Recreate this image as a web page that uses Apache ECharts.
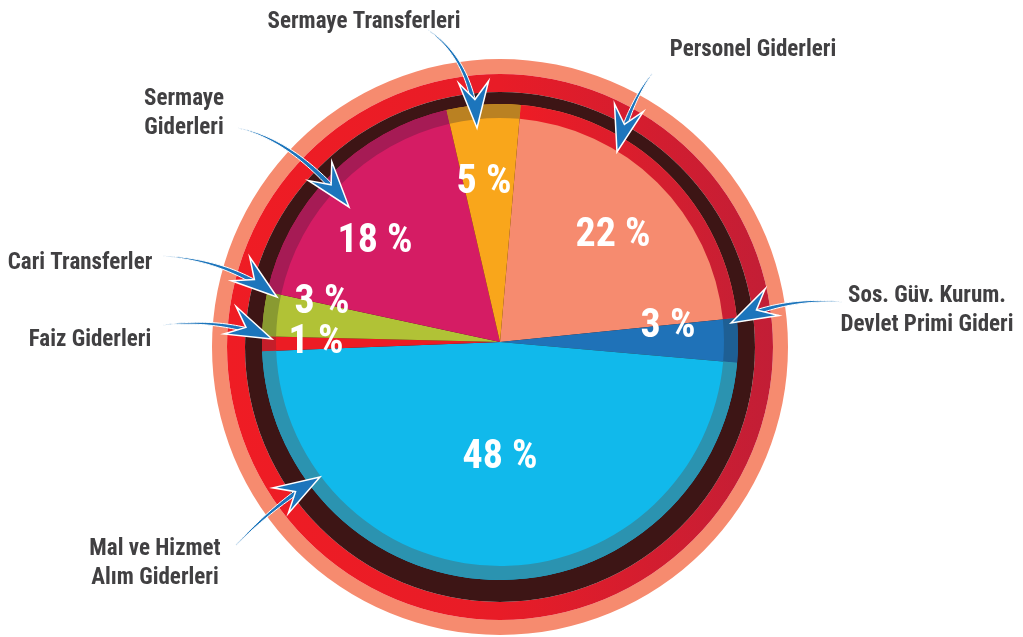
<!DOCTYPE html>
<html>
<head>
<meta charset="utf-8">
<title>Gider Dağılımı</title>
<script src="https://cdn.jsdelivr.net/npm/echarts@6.0.0/dist/echarts.min.js"></script>
<style>
  html, body { margin: 0; padding: 0; background: #fff; }
  #chart { width: 1023px; height: 637px; }
</style>
</head>
<body>
<div id="chart"></div>
<script>
// slices, clockwise from the top
const categories = [
  'Personel Giderleri',
  'Sos. Güv. Kurum.\nDevlet Primi Gideri',
  'Mal ve Hizmet\nAlım Giderleri',
  'Faiz Giderleri',
  'Cari Transferler',
  'Sermaye\nGiderleri',
  'Sermaye Transferleri'
]
const shares = [22, 3, 48, 1, 3, 18, 5]

const sliceColors = ['#F68B6F', '#1F72B8', '#11B9EB', '#EC1C24', '#B1C236', '#D51C64', '#F9A61B']
const bandColors = ['#E61D2A', '#1E5F94', '#2B93B0', '#C41E2A', '#899A31', '#A61B55', '#BA8122']

// where the texts sit
const pctPos = [[613, 236], [668, 327], [500, 458], [316, 343], [322, 303], [375, 242], [484, 183]]
const namePos = [[753, 50], [927, 311], [155, 564], [90, 340], [80, 263], [184, 114], [364, 22]]

// callout arrows: tail, control, tip
const arrows = [
  { tail: [652, 74], ctrl: [631, 100], tip: [617, 152] },
  { tail: [842, 302], ctrl: [782, 297], tip: [731, 323] },
  { tail: [236, 545], ctrl: [275, 504], tip: [320, 477] },
  { tail: [163, 325], ctrl: [225, 318], tip: [272, 339] },
  { tail: [163, 256], ctrl: [229, 260], tip: [277, 297] },
  { tail: [238, 128], ctrl: [295, 140], tip: [349, 207] },
  { tail: [428, 30], ctrl: [472, 60], tip: [477, 128] }
]

const FONT = '"Liberation Sans Narrow", "Roboto Condensed", "DejaVu Sans Condensed", "Arial Narrow", sans-serif'
const ringCenter = [500, 347]
const pieCenter = [500, 342]

const data = categories.map((name, i) => ({
  name,
  value: shares[i],
  itemStyle: { color: sliceColors[i] }
}))

const bandData = categories.map((name, i) => ({
  name,
  value: shares[i],
  itemStyle: {
    color: i === 0
      ? new echarts.graphic.LinearGradient(0, 0, 1, 0, [
        { offset: 0, color: '#EE1C25' },
        { offset: 1, color: '#C71F34' }
      ])
      : bandColors[i]
  }
}))

const ring = (radius, color) => ({
  type: 'pie',
  silent: true,
  center: ringCenter,
  radius,
  label: { show: false },
  labelLine: { show: false },
  emphasis: { disabled: true },
  data: [{ value: 1, itemStyle: { color } }]
})

const buildArrow = (a) => {
  const [p0, p1, p2] = [a.tail, a.ctrl, a.tip]
  const pt = t => [
    (1 - t) * (1 - t) * p0[0] + 2 * (1 - t) * t * p1[0] + t * t * p2[0],
    (1 - t) * (1 - t) * p0[1] + 2 * (1 - t) * t * p1[1] + t * t * p2[1]
  ]
  const tan = t => {
    const dx = 2 * (1 - t) * (p1[0] - p0[0]) + 2 * t * (p2[0] - p1[0])
    const dy = 2 * (1 - t) * (p1[1] - p0[1]) + 2 * t * (p2[1] - p1[1])
    const l = Math.hypot(dx, dy) || 1
    return [dx / l, dy / l]
  }
  const left = []
  const right = []
  const n = 30
  for (let k = 0; k <= n; k++) {
    const t = k / n * 0.9
    const p = pt(t)
    const d = tan(t)
    const w = 0.3 + 2.4 * (t / 0.9)
    left.push([p[0] - d[1] * w, p[1] + d[0] * w])
    right.unshift([p[0] + d[1] * w, p[1] - d[0] * w])
  }
  const d = tan(1)
  const L = 46
  const W = 15
  const base = [p2[0] - d[0] * L, p2[1] - d[1] * L]
  const head = [
    p2,
    [base[0] - d[1] * W, base[1] + d[0] * W],
    [p2[0] - d[0] * L * 0.62, p2[1] - d[1] * L * 0.62],
    [base[0] + d[1] * W, base[1] - d[0] * W]
  ]
  return [
    {
      type: 'polygon',
      z: 100,
      silent: true,
      shape: { points: left.concat(right) },
      style: { fill: '#1C75BC', stroke: '#fff', lineWidth: 1 }
    },
    {
      type: 'polygon',
      z: 101,
      silent: true,
      shape: { points: head },
      style: { fill: '#1C75BC', stroke: '#fff', lineWidth: 1.5, lineJoin: 'miter' }
    }
  ]
}

const chart = echarts.init(document.getElementById('chart'))
chart.setOption({
  backgroundColor: '#fff',
  animation: false,
  series: [
    ring([273, 288], '#F68B6F'),
    ring([255, 273], new echarts.graphic.LinearGradient(0, 0, 1, 0, [
      { offset: 0, color: '#EF1C24' },
      { offset: 0.5, color: '#E81C27' },
      { offset: 1, color: '#C21E36' }
    ])),
    ring([0, 255], '#3D1515'),
    {
      type: 'pie',
      silent: true,
      center: pieCenter,
      radius: [0, 238],
      startAngle: 85,
      clockwise: true,
      avoidLabelOverlap: false,
      emphasis: { disabled: true },
      label: {
        show: true,
        position: 'inside',
        formatter: '{c} %',
        color: '#fff',
        fontFamily: FONT,
        fontWeight: 'bold',
        fontSize: 40
      },
      labelLayout: params => ({
        x: pctPos[params.dataIndex][0],
        y: pctPos[params.dataIndex][1],
        align: 'center',
        verticalAlign: 'middle'
      }),
      data
    },
    {
      type: 'pie',
      silent: true,
      center: pieCenter,
      radius: [224, 238],
      startAngle: 85,
      clockwise: true,
      avoidLabelOverlap: false,
      emphasis: { disabled: true },
      labelLine: { show: false },
      label: {
        show: true,
        position: 'outside',
        formatter: '{b}',
        color: '#414042',
        fontFamily: FONT,
        fontWeight: 'bold',
        fontSize: 23,
        lineHeight: 29,
        align: 'center'
      },
      labelLayout: params => ({
        x: namePos[params.dataIndex][0],
        y: namePos[params.dataIndex][1],
        align: 'center',
        verticalAlign: 'middle'
      }),
      data: bandData
    }
  ],
  graphic: arrows.map(buildArrow).flat()
})

window.addEventListener('resize', () => chart.resize())
</script>
</body>
</html>
